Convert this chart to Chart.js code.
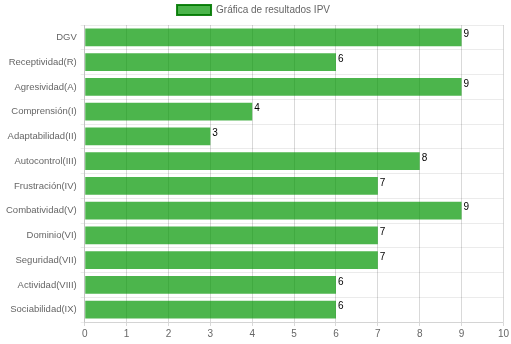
<!DOCTYPE html>
<html>
<head>
<meta charset="utf-8">
<script src="https://cdn.jsdelivr.net/npm/chart.js@4"></script>
<style>
  html, body { margin: 0; padding: 0; background: #fff; }
  #wrap { width: 511px; height: 344px; }
</style>
</head>
<body>
<div id="wrap"><canvas id="ipvChart" width="511" height="344"></canvas></div>
<script>
// ── Data ──────────────────────────────────────────────
const categories = [
  'DGV', 'Receptividad(R)', 'Agresividad(A)', 'Comprensión(I)',
  'Adaptabilidad(II)', 'Autocontrol(III)', 'Frustración(IV)',
  'Combatividad(V)', 'Dominio(VI)', 'Seguridad(VII)',
  'Actividad(VIII)', 'Sociabilidad(IX)'
];
const scores = [9, 6, 9, 4, 3, 8, 7, 9, 7, 7, 6, 6];
const seriesLabel = 'Gráfica de resultados IPV';

// value printed at the end of each bar
const barValues = {
  id: 'barValues',
  afterDatasetsDraw(chart) {
    const ctx = chart.ctx;
    ctx.save();
    ctx.font = '10px "Liberation Sans", Arial, sans-serif';
    ctx.fillStyle = '#000';
    ctx.textAlign = 'left';
    ctx.textBaseline = 'top';
    chart.getDatasetMeta(0).data.forEach((bar, i) => {
      ctx.fillText(scores[i], bar.x + 2, bar.y - bar.height / 2 + 1);
    });
    ctx.restore();
  }
};

Chart.defaults.font.family = '"Liberation Sans", Arial, sans-serif';
Chart.defaults.font.size = 9.5;
Chart.defaults.color = '#666';

new Chart(document.getElementById('ipvChart').getContext('2d'), {
  type: 'bar',
  data: {
    labels: categories,
    datasets: [{
      label: seriesLabel,
      data: scores,
      backgroundColor: 'rgba(0, 150, 0, 0.7)',
      borderColor: 'rgba(0, 120, 0, 0.9)',
      borderWidth: 0
    }]
  },
  options: {
    indexAxis: 'y',
    responsive: false,
    animation: false,
    layout: { padding: { left: 2, right: 6, top: 0, bottom: 2 } },
    plugins: {
      legend: {
        labels: {
          boxWidth: 34,
          boxHeight: 10,
          padding: 5,
          color: '#666',
          font: { size: 10 },
          generateLabels: () => [{
            text: seriesLabel,
            fillStyle: 'rgba(0, 150, 0, 0.7)',
            strokeStyle: 'rgba(0, 120, 0, 0.9)',
            fontColor: '#666',
            lineWidth: 2,
            datasetIndex: 0
          }]
        }
      },
      tooltip: { enabled: false }
    },
    scales: {
      x: {
        min: 0,
        max: 10,
        ticks: { stepSize: 1, padding: 2, font: { size: 10 } },
        grid: { color: 'rgba(0,0,0,0.15)', tickLength: 4 }
      },
      y: {
        ticks: { padding: 4 },
        grid: { color: 'rgba(0,0,0,0.08)', offset: true, tickLength: 4 }
      }
    }
  },
  plugins: [barValues]
});
</script>
</body>
</html>
